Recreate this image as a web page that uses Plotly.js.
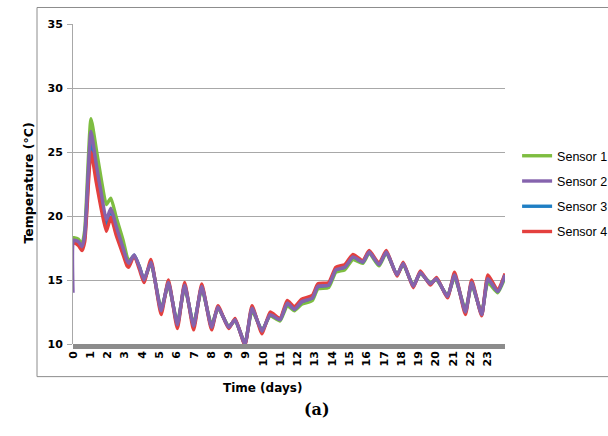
<!DOCTYPE html>
<html>
<head>
<meta charset="utf-8">
<script src="https://cdn.plot.ly/plotly-3.0.1.min.js"></script>
<style>
html,body{margin:0;padding:0;background:#fff;}
#chart{width:608px;height:436px;}
</style>
</head>
<body>
<div id="chart"></div>
<script>
// x positions in category-slot units of the original (Excel) category axis
const timeSlot = [0, 0.05, 0.31, 0.52, 0.68, 1.04, 1.35, 1.67, 1.93, 2.19, 2.5, 2.92, 3.13, 3.23, 3.54, 3.85, 4.11, 4.51, 5.1, 5.52, 6.04, 6.46, 6.98, 7.45, 8.02, 8.39, 9.01, 9.38, 9.95, 10.36, 10.94, 11.41, 11.98, 12.4, 12.81, 13.23, 13.85, 14.17, 14.79, 15.21, 15.73, 16.2, 16.77, 17.14, 17.71, 18.13, 18.75, 19.11, 19.69, 20.1, 20.68, 21.04, 21.67, 22.08, 22.71, 23.07, 23.65, 24.01, 24.58, 25.0];

const sensor1 = [18.3, 18.3, 18.2, 17.8, 18.9, 27.6, 25.2, 22.6, 20.9, 21.4, 19.9, 18.0, 16.8, 16.5, 16.9, 16.0, 15.0, 16.3, 12.8, 14.6, 11.7, 14.4, 11.6, 14.3, 11.5, 12.8, 11.4, 11.8, 10.1, 12.6, 11.1, 12.2, 11.8, 13.0, 12.6, 13.1, 13.4, 14.3, 14.4, 15.6, 15.8, 16.6, 16.3, 17.1, 16.1, 17.1, 15.4, 16.2, 14.6, 15.5, 14.8, 15.0, 13.8, 15.2, 12.7, 14.6, 12.5, 14.8, 14.0, 15.2];
const sensor2 = [14.0, 18.1, 18.0, 17.6, 18.5, 26.6, 24.0, 21.5, 19.7, 20.6, 19.2, 17.4, 16.5, 16.3, 16.95, 16.0, 15.0, 16.4, 12.6, 14.8, 11.5, 14.6, 11.4, 14.5, 11.3, 12.9, 11.3, 11.9, 10.0, 12.8, 11.0, 12.3, 11.9, 13.2, 12.7, 13.3, 13.6, 14.5, 14.6, 15.8, 16.0, 16.8, 16.4, 17.2, 16.2, 17.2, 15.4, 16.3, 14.5, 15.6, 14.7, 15.1, 13.7, 15.4, 12.5, 14.8, 12.3, 15.1, 14.1, 15.4];
const sensor3 = [18.0, 18.0, 17.9, 17.5, 18.3, 25.8, 23.4, 21.0, 19.3, 20.5, 19.0, 17.3, 16.4, 16.3, 16.95, 16.0, 15.0, 16.4, 12.6, 14.8, 11.5, 14.6, 11.4, 14.5, 11.3, 12.9, 11.3, 11.9, 10.0, 12.8, 11.0, 12.3, 11.9, 13.2, 12.7, 13.3, 13.6, 14.5, 14.6, 15.8, 16.0, 16.8, 16.4, 17.2, 16.2, 17.2, 15.4, 16.3, 14.5, 15.6, 14.7, 15.1, 13.7, 15.4, 12.5, 14.8, 12.3, 15.1, 14.1, 15.4];
const sensor4 = [17.9, 17.9, 17.7, 17.3, 18.0, 25.0, 22.6, 20.3, 18.8, 19.9, 18.5, 16.9, 16.1, 16.0, 16.9, 15.8, 14.8, 16.6, 12.3, 15.0, 11.2, 14.8, 11.1, 14.7, 11.1, 13.0, 11.2, 12.0, 9.9, 13.0, 10.8, 12.5, 12.0, 13.4, 12.9, 13.5, 13.8, 14.7, 14.8, 16.0, 16.2, 17.0, 16.5, 17.3, 16.3, 17.3, 15.3, 16.4, 14.4, 15.7, 14.6, 15.2, 13.6, 15.6, 12.3, 15.0, 12.2, 15.4, 14.2, 15.5];

const seriesNames = ["Sensor 1", "Sensor 2", "Sensor 3", "Sensor 4"];
// tick labels of the category axis, one per slot (0..24)
const tickLabels = ["0","1","2","3","4","5","6","7","8","9","9","10","11","12","13","14","15","16","17","18","19","20","21","22","23"];
const tickSlots = tickLabels.map((_, i) => i);
const yTicks = [10, 15, 20, 25, 30, 35];

const colors = {"Sensor 1": "#7ebd41", "Sensor 2": "#8563ad", "Sensor 3": "#1f7fc4", "Sensor 4": "#e4403e"};
const drawOrder = [
  ["Sensor 1", sensor1, 1],
  ["Sensor 3", sensor3, 3],
  ["Sensor 4", sensor4, 4],
  ["Sensor 2", sensor2, 2]
];

const traces = drawOrder.map(([name, vals, rank]) => ({
  type: "scatter",
  mode: "lines",
  name: name,
  x: timeSlot,
  y: vals,
  legendrank: rank,
  legendgroup: name,
  line: {color: colors[name], width: 3.4, shape: "spline", smoothing: 0.5}
}));

const bold = {family: "DejaVu Sans", size: 11, color: "#000", weight: "bold"};

const layout = {
  width: 608, height: 436,
  margin: {l: 73, r: 103, t: 24, b: 92, autoexpand: false},
  paper_bgcolor: "#fff", plot_bgcolor: "#fff",
  showlegend: true,
  legend: {
    x: 1.028, xanchor: "left", y: 0.634, yanchor: "top",
    font: {family: "Liberation Sans", size: 12.5, color: "#000"},
    tracegroupgap: 6, bgcolor: "rgba(0,0,0,0)"
  },
  xaxis: {
    range: [0, 25], tickvals: tickSlots, ticktext: tickLabels,
    tickangle: -90, showgrid: false, zeroline: false, showline: false,
    ticks: "", tickfont: bold, ticklabelstandoff: 4, automargin: false
  },
  yaxis: {
    range: [10, 35], tickvals: yTicks, showgrid: true, gridcolor: "#a8a8a8", gridwidth: 1,
    zeroline: false, showline: true, linecolor: "#a8a8a8", linewidth: 1,
    ticks: "outside", ticklen: 5, tickcolor: "#a8a8a8", tickfont: bold, ticklabelstandoff: 2,
    automargin: false
  },
  shapes: [
    {type: "rect", xref: "paper", yref: "paper", x0: -0.0833, x1: 1.26, y0: -0.102, y1: 1.0516,
     line: {color: "#8c8c8c", width: 1}, fillcolor: "rgba(0,0,0,0)", layer: "below"},
    {type: "rect", xref: "paper", yref: "paper", x0: 0, x1: 1, y0: -0.016, y1: 0,
     line: {width: 0}, fillcolor: "#8c8c8c", layer: "above"}
  ],
  annotations: [
    {text: "Temperature (°C)", textangle: -90, xref: "paper", yref: "paper",
     x: (18 - 73) / 432, y: (344 - 183) / 320, showarrow: false,
     font: {family: "DejaVu Sans", size: 12.5, color: "#000", weight: "bold"}},
    {text: "Time (days)", xref: "paper", yref: "paper",
     x: (262 - 73) / 432, y: (344 - 397) / 320, showarrow: false,
     font: {family: "DejaVu Sans", size: 12, color: "#000", weight: "bold"}},
    {text: "(a)", xref: "paper", yref: "paper",
     x: (317 - 73) / 432, y: (344 - 421) / 320, showarrow: false,
     font: {family: "DejaVu Serif", size: 16, color: "#000", weight: "bold"}}
  ]
};

Plotly.newPlot("chart", traces, layout, {staticPlot: true, displayModeBar: false});
</script>
</body>
</html>
